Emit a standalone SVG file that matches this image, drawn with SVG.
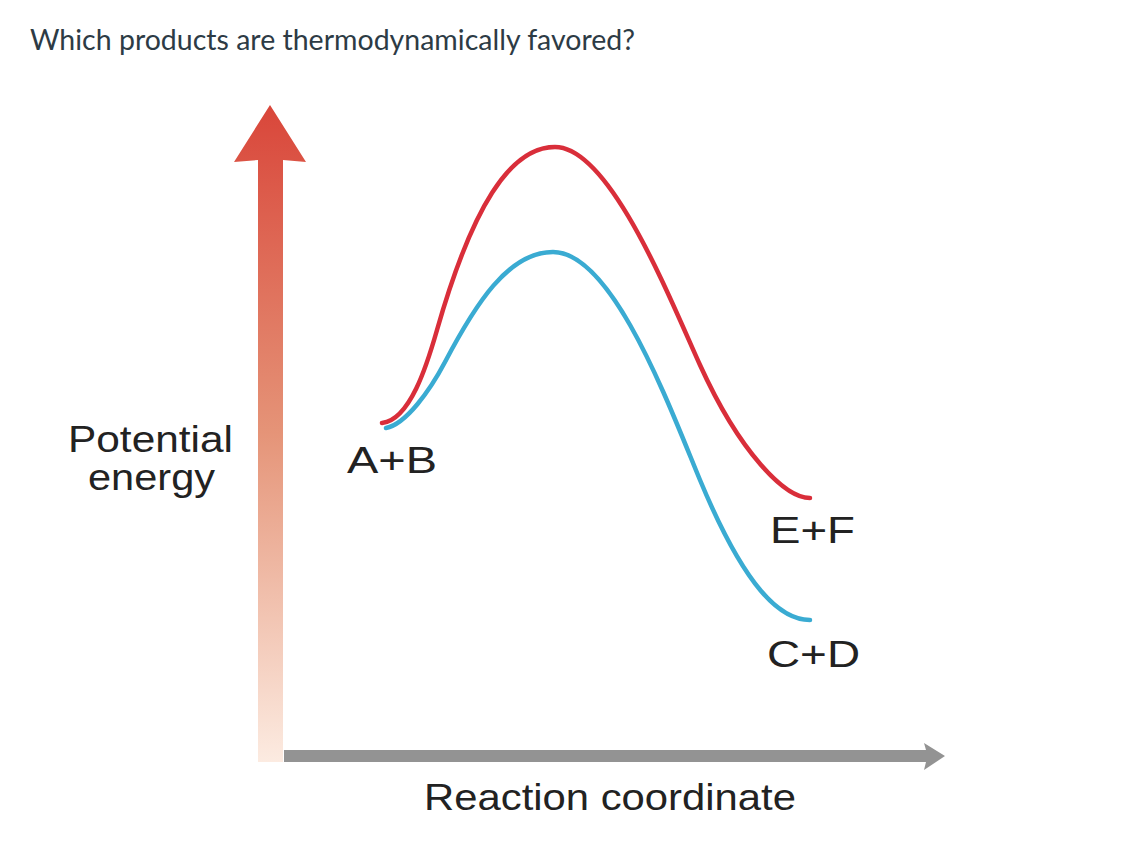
<svg xmlns="http://www.w3.org/2000/svg" width="1134" height="846" viewBox="0 0 1134 846">
<style>
.lbl{font-family:"Liberation Sans",Arial,sans-serif;font-size:37px;fill:#222;}
.title{font-family:Lato,"Liberation Sans",sans-serif;font-size:28px;fill:#2d3b45;}
.curve{fill:none;stroke-width:4.5;stroke-linecap:round;stroke-linejoin:round;}
</style>
<defs>
<linearGradient id="vgradUse" gradientUnits="userSpaceOnUse" x1="0" y1="762" x2="0" y2="105">
<stop offset="0" stop-color="#fcebe1"/>
<stop offset="0.5" stop-color="#e59478"/>
<stop offset="1" stop-color="#d9463a"/>
</linearGradient>
</defs>
<rect width="1134" height="846" fill="#ffffff"/>
<text class="title" x="30" y="50" textLength="605" lengthAdjust="spacingAndGlyphs">Which products are thermodynamically favored?</text>
<g id="y-axis">
<path d="M258,762 L258,160 L234,162 L270,105 L306,162 L283,160 L283,762 Z" fill="url(#vgradUse)"/>
</g>
<g id="x-axis">
<path d="M284,750 L926,750 L924,743 L945,756 L924,770 L926,762 L284,762 Z" fill="#939393"/>
</g>
<g id="connectors">
<path id="red-curve" class="curve" stroke="#d92e3a" d="M382,423 C410,420 427,365 437,330 C472,207.5 510,147 555,147 C610,147 670,299 700,365 C740,453 785,498 810,498"/>
<path id="blue-curve" class="curve" stroke="#3aabd2" d="M386,428 C406,424 430,390.5 445,362 C475,305 508,252 553,252 C613,252 670,408 700,480 C745,588 780,620 810,620"/>
</g>
<g id="label-potential">
<text class="lbl" x="68" y="452" textLength="165" lengthAdjust="spacingAndGlyphs">Potential</text>
<text class="lbl" x="88" y="490" textLength="127" lengthAdjust="spacingAndGlyphs">energy</text>
</g>
<g id="node-ab"><text class="lbl" x="347" y="473" textLength="90" lengthAdjust="spacingAndGlyphs">A+B</text></g>
<g id="node-ef"><text class="lbl" x="770" y="543" textLength="85" lengthAdjust="spacingAndGlyphs">E+F</text></g>
<g id="node-cd"><text class="lbl" x="767" y="667" textLength="93" lengthAdjust="spacingAndGlyphs">C+D</text></g>
<g id="label-reaction"><text class="lbl" x="424" y="810" textLength="372" lengthAdjust="spacingAndGlyphs">Reaction coordinate</text></g>
</svg>
